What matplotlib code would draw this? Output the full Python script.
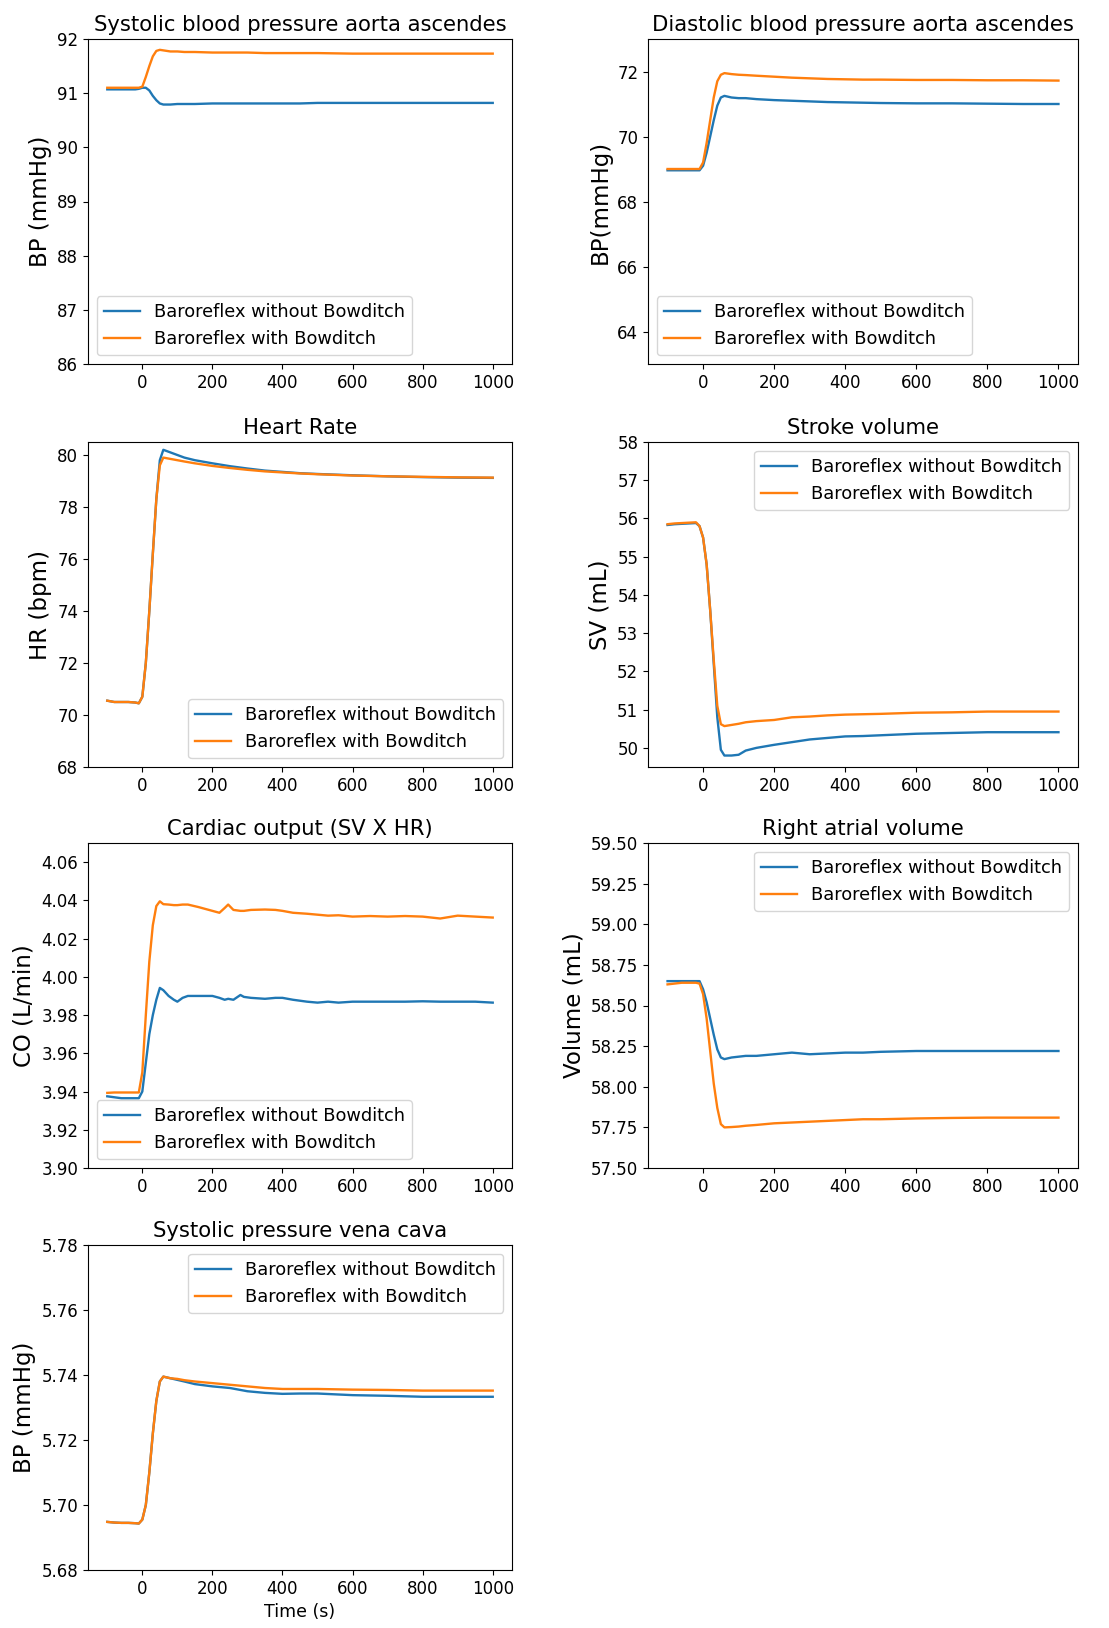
import matplotlib
matplotlib.use("Agg")
import matplotlib.pyplot as plt

# ---------------- data ----------------
labels = ["Baroreflex without Bowditch", "Baroreflex with Bowditch"]

time_s = [-100, -80, -60, -40, -20, -10, 0, 10, 20, 30, 40, 50, 60, 80, 100, 120, 150,
          200, 250, 300, 350, 400, 450, 500, 600, 700, 800, 900, 1000]

sbp_no = [91.07, 91.07, 91.07, 91.07, 91.07, 91.08, 91.1, 91.1, 91.05, 90.95, 90.87, 90.81, 90.79,
          90.79, 90.8, 90.8, 90.8, 90.81, 90.81, 90.81, 90.81, 90.81, 90.81, 90.82, 90.82, 90.82,
          90.82, 90.82, 90.82]
sbp_bw = [91.1, 91.1, 91.1, 91.1, 91.1, 91.1, 91.12, 91.3, 91.5, 91.68, 91.78, 91.8, 91.79,
          91.77, 91.77, 91.76, 91.76, 91.75, 91.75, 91.75, 91.74, 91.74, 91.74, 91.74, 91.73, 91.73,
          91.73, 91.73, 91.73]

dbp_no = [68.96, 68.96, 68.96, 68.96, 68.96, 68.96, 69.1, 69.5, 70.0, 70.5, 70.95, 71.2, 71.25,
          71.2, 71.18, 71.18, 71.15, 71.12, 71.1, 71.08, 71.06, 71.05, 71.04, 71.03, 71.02, 71.02,
          71.01, 71.0, 71.0]
dbp_bw = [69.0, 69.0, 69.0, 69.0, 69.0, 69.0, 69.2, 69.8, 70.5, 71.2, 71.7, 71.9, 71.95,
          71.92, 71.9, 71.89, 71.87, 71.84, 71.81, 71.79, 71.77, 71.76, 71.75, 71.75, 71.74, 71.74,
          71.73, 71.73, 71.72]

hr_no = [70.55, 70.5, 70.5, 70.5, 70.48, 70.45, 70.7, 72.0, 74.0, 76.2, 78.3, 79.8, 80.2,
         80.1, 80.0, 79.9, 79.8, 79.68, 79.57, 79.48, 79.4, 79.35, 79.3, 79.27, 79.22, 79.18,
         79.15, 79.13, 79.12]
hr_bw = [70.55, 70.5, 70.5, 70.5, 70.48, 70.45, 70.7, 72.0, 74.0, 76.2, 78.3, 79.6, 79.9,
         79.85, 79.8, 79.75, 79.68, 79.58, 79.5, 79.43, 79.37, 79.33, 79.29, 79.26, 79.21, 79.18,
         79.16, 79.14, 79.13]

sv_no = [55.83, 55.85, 55.86, 55.87, 55.88, 55.8, 55.5, 54.8, 53.6, 52.2, 50.8, 49.95, 49.8,
         49.8, 49.82, 49.93, 50.0, 50.08, 50.15, 50.22, 50.26, 50.3, 50.31, 50.33, 50.37, 50.39,
         50.41, 50.41, 50.41]
sv_bw = [55.85, 55.87, 55.88, 55.89, 55.9, 55.8, 55.5, 54.8, 53.6, 52.3, 51.1, 50.62, 50.57,
         50.6, 50.63, 50.67, 50.7, 50.73, 50.8, 50.82, 50.85, 50.87, 50.88, 50.89, 50.92, 50.93,
         50.95, 50.95, 50.95]

co_time = [-100, -80, -60, -40, -20, -10, 0, 10, 20, 30, 40, 50, 60, 75, 90, 100, 115, 130, 160,
           200, 220, 235, 245, 260, 280, 290, 310, 350, 380, 400, 430, 470, 500, 530, 560, 600,
           650, 700, 750, 800, 850, 900, 950, 1000]
co_no = [3.9375, 3.937, 3.9365, 3.9365, 3.9365, 3.9365, 3.940, 3.955, 3.970, 3.980, 3.988, 3.9942,
         3.993, 3.990, 3.988, 3.987, 3.989, 3.990, 3.990, 3.990, 3.989, 3.988, 3.9885, 3.988,
         3.9905, 3.9895, 3.989, 3.9885, 3.989, 3.989, 3.988, 3.987, 3.9865, 3.987, 3.9865, 3.987,
         3.987, 3.987, 3.987, 3.9872, 3.987, 3.987, 3.987, 3.9865]
co_bw = [3.9393, 3.9395, 3.9395, 3.9395, 3.9395, 3.9395, 3.950, 3.980, 4.008, 4.027, 4.037, 4.0395,
         4.038, 4.0378, 4.0375, 4.0375, 4.0378, 4.0378, 4.0365, 4.0345, 4.0335, 4.036, 4.0378,
         4.035, 4.0345, 4.0345, 4.035, 4.0352, 4.035, 4.0345, 4.0335, 4.033, 4.0325, 4.032,
         4.0322, 4.0315, 4.0318, 4.0315, 4.0318, 4.0315, 4.0305, 4.032, 4.0315, 4.031]

ra_no = [58.65, 58.65, 58.65, 58.65, 58.65, 58.65, 58.6, 58.52, 58.42, 58.32, 58.23, 58.18, 58.17,
         58.18, 58.185, 58.19, 58.19, 58.2, 58.21, 58.2, 58.205, 58.21, 58.21, 58.215, 58.22,
         58.22, 58.22, 58.22, 58.22]
ra_bw = [58.63, 58.635, 58.64, 58.64, 58.64, 58.635, 58.57, 58.42, 58.22, 58.02, 57.87, 57.77,
         57.75, 57.752, 57.755, 57.76, 57.765, 57.775, 57.78, 57.785, 57.79, 57.795, 57.8, 57.8,
         57.805, 57.808, 57.81, 57.81, 57.81]

vc_no = [5.6948, 5.6946, 5.6945, 5.6945, 5.6944, 5.6943, 5.6955, 5.700, 5.710, 5.722, 5.732,
         5.738, 5.7395, 5.739, 5.7385, 5.738, 5.7372, 5.7365, 5.736, 5.735, 5.7345, 5.7342,
         5.7343, 5.7343, 5.7338, 5.7336, 5.7333, 5.7333, 5.7333]
vc_bw = [5.6948, 5.6946, 5.6945, 5.6945, 5.6944, 5.6943, 5.6955, 5.700, 5.710, 5.722, 5.732,
         5.738, 5.7395, 5.739, 5.7388, 5.7384, 5.738, 5.7375, 5.737, 5.7365, 5.736, 5.7357,
         5.7357, 5.7357, 5.7355, 5.7354, 5.7352, 5.7352, 5.7352]

titles = ["Systolic blood pressure aorta ascendes", "Diastolic blood pressure aorta ascendes",
          "Heart Rate", "Stroke volume", "Cardiac output (SV X HR)", "Right atrial volume",
          "Systolic pressure vena cava"]
ylabels = ["BP (mmHg)", "BP(mmHg)", "HR (bpm)", "SV (mL)", "CO (L/min)", "Volume (mL)", "BP (mmHg)"]
ylims = [(86, 92), (63, 73), (68, 80.5), (49.5, 58), (3.90, 4.07), (57.5, 59.5), (5.68, 5.78)]
legend_locs = ["lower left", "lower left", "lower right", "upper right", "lower left",
               "upper right", "upper right"]

panels = [
    (time_s, sbp_no, sbp_bw),
    (time_s, dbp_no, dbp_bw),
    (time_s, hr_no, hr_bw),
    (time_s, sv_no, sv_bw),
    (co_time, co_no, co_bw),
    (time_s, ra_no, ra_bw),
    (time_s, vc_no, vc_bw),
]

# ---------------- layout ----------------
W, H = 1109, 1628
fig = plt.figure(figsize=(W / 100, H / 100), dpi=100)

col_left = [88, 648]
col_width = [424, 430]
row_top = [39, 442, 843, 1245]
ax_h = 325

for i, (t, y_no, y_bw) in enumerate(panels):
    r, c = divmod(i, 2)
    left = col_left[c] / W
    bottom = 1 - (row_top[r] + ax_h) / H
    ax = fig.add_axes([left, bottom, col_width[c] / W, ax_h / H])
    ax.plot(t, y_no, color="tab:blue", lw=1.7, label=labels[0])
    ax.plot(t, y_bw, color="tab:orange", lw=1.7, label=labels[1])
    ax.set_ylim(*ylims[i])
    ax.set_xticks([0, 200, 400, 600, 800, 1000])
    ax.set_title(titles[i], fontsize=15.2)
    ax.set_ylabel(ylabels[i], fontsize=16.5)
    ax.tick_params(labelsize=12)
    ax.legend(loc=legend_locs[i], fontsize=12.8)
    if i == 6:
        ax.set_xlabel("Time (s)", fontsize=12.5)

fig.savefig("out.png", dpi=100)
